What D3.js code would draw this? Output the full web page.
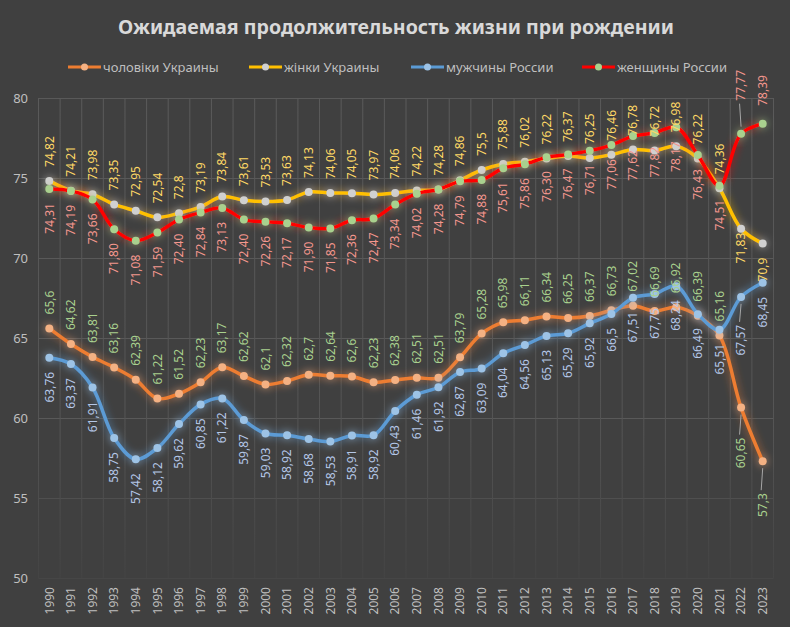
<!DOCTYPE html>
<html>
<head>
<meta charset="utf-8">
<script src="https://cdn.jsdelivr.net/npm/d3@7"></script>
<style>
    body { margin: 0; background: #404040; }
    #chart { width: 790px; height: 627px; }
</style>
</head>
<body>
<div id="chart"></div>
<script>
var years = [1990, 1991, 1992, 1993, 1994, 1995, 1996, 1997, 1998, 1999, 2000, 2001,
    2002, 2003, 2004, 2005, 2006, 2007, 2008, 2009, 2010, 2011, 2012, 2013, 2014,
    2015, 2016, 2017, 2018, 2019, 2020, 2021, 2022, 2023];

// чоловіки Украины
var uaMen = [65.6, 64.62, 63.81, 63.16, 62.39, 61.22, 61.52, 62.23, 63.17, 62.62, 62.1, 62.32,
    62.7, 62.64, 62.6, 62.23, 62.38, 62.51, 62.51, 63.79, 65.28, 65.98, 66.11, 66.34, 66.25,
    66.37, 66.73, 67.02, 66.69, 66.92, 66.39, 65.16, 60.65, 57.3];
// жінки Украины
var uaWomen = [74.82, 74.21, 73.98, 73.35, 72.95, 72.54, 72.8, 73.19, 73.84, 73.61, 73.53, 73.63,
    74.13, 74.06, 74.05, 73.97, 74.06, 74.22, 74.28, 74.86, 75.5, 75.88, 76.02, 76.22, 76.37,
    76.25, 76.46, 76.78, 76.72, 76.98, 76.22, 74.36, 71.83, 70.9];
// мужчины России
var ruMen = [63.76, 63.37, 61.91, 58.75, 57.42, 58.12, 59.62, 60.85, 61.22, 59.87, 59.03, 58.92,
    58.68, 58.53, 58.91, 58.92, 60.43, 61.46, 61.92, 62.87, 63.09, 64.04, 64.56, 65.13, 65.29,
    65.92, 66.5, 67.51, 67.75, 68.24, 66.49, 65.51, 67.57, 68.45];
// женщины России
var ruWomen = [74.31, 74.19, 73.66, 71.80, 71.08, 71.59, 72.40, 72.84, 73.13, 72.40, 72.26, 72.17,
    71.90, 71.85, 72.36, 72.47, 73.34, 74.02, 74.28, 74.79, 74.88, 75.61, 75.86, 76.30, 76.47,
    76.71, 77.06, 77.62, 77.82, 78.17, 76.43, 74.51, 77.77, 78.39];

var yTicks = [50, 55, 60, 65, 70, 75, 80];
var seriesNames = ["чоловіки  Украины", "жінки Украины", "мужчины России", "женщины России"];

var width = 790,
    height = 627;

var series = [
    {name: seriesNames[0], values: uaMen, line: "#ED7D31", marker: "#F4B183", label: "#A9D18E", side: "up", fixed: false},
    {name: seriesNames[1], values: uaWomen, line: "#FFC000", marker: "#D0D0D0", label: "#FFD966", side: "up", fixed: false},
    {name: seriesNames[2], values: ruMen, line: "#5B9BD5", marker: "#9DC3E6", label: "#B4C7E7", side: "down", fixed: false},
    {name: seriesNames[3], values: ruWomen, line: "#FF0000", marker: "#A9D18E", label: "#F4978E", side: "down", fixed: true}
];

// hand-placed labels at the end of the chart: [side, gap, leader line]
var labelOverrides = {
    0: {2022: ["down", 30, true], 2023: ["down", 32, true]},
    1: {2022: ["down", 4, false], 2023: ["down", 14, false]},
    2: {2022: ["down", 28, true]},
    3: {2022: ["up", 33, true], 2023: ["up", 18, false]}
};

var x = d3.scaleBand().domain(years).range([38.5, 773.5]);
var y = d3.scaleLinear().domain([50, 80]).range([578, 98]);
var cx = function (d) { return x(d) + x.bandwidth() / 2 };

var svg = d3.select("#chart")
    .append("svg")
    .attr("width", width)
    .attr("height", height)
    .style("font-family", "'Noto Sans', sans-serif");

svg.append("rect").attr("width", width).attr("height", height).attr("fill", "#404040");

var defs = svg.append("defs");
var glow = defs.append("filter")
    .attr("id", "glow")
    .attr("filterUnits", "userSpaceOnUse")
    .attr("x", 0).attr("y", 0).attr("width", width).attr("height", height);
glow.append("feGaussianBlur").attr("in", "SourceGraphic").attr("stdDeviation", 4).attr("result", "b");
glow.append("feComponentTransfer").attr("in", "b").attr("result", "b2")
    .append("feFuncA").attr("type", "linear").attr("slope", 0.75);
var merge = glow.append("feMerge");
merge.append("feMergeNode").attr("in", "b2");
merge.append("feMergeNode").attr("in", "SourceGraphic");

// grid fades out towards the bottom
var fade = defs.append("linearGradient")
    .attr("id", "fade")
    .attr("gradientUnits", "userSpaceOnUse")
    .attr("x1", 0).attr("x2", 0).attr("y1", 98).attr("y2", 578);
fade.append("stop").attr("offset", "0").attr("stop-color", "#5a5a5a");
fade.append("stop").attr("offset", "0.7").attr("stop-color", "#545454");
fade.append("stop").attr("offset", "1").attr("stop-color", "#444444");

// title
svg.append("text")
    .attr("x", 396)
    .attr("y", 34)
    .attr("text-anchor", "middle")
    .attr("fill", "#D9D9D9")
    .style("font-size", "19.6px")
    .style("font-weight", "bold")
    .text("Ожидаемая продолжительность жизни при рождении");

// legend
var legendX = [68, 249, 411, 582];
var legend = svg.append("g").selectAll("g")
    .data(series)
    .enter()
    .append("g")
    .attr("transform", function (d, i) { return "translate(" + legendX[i] + ",67)" });
legend.append("line")
    .attr("x1", 0).attr("x2", 33)
    .attr("stroke", function (d) { return d.line })
    .attr("stroke-width", 3);
legend.append("circle")
    .attr("cx", 16.5).attr("r", 3.5)
    .attr("fill", function (d) { return d.marker });
legend.append("text")
    .attr("x", 35)
    .attr("dy", "0.35em")
    .attr("fill", "#BFBFBF")
    .style("font-size", "13px")
    .text(function (d) { return d.name });

// grid
var grid = svg.append("g").attr("stroke-width", 1);
grid.selectAll(".hg")
    .data(yTicks)
    .enter()
    .append("line")
    .attr("x1", x.range()[0]).attr("x2", x.range()[1])
    .attr("y1", function (d) { return Math.round(y(d)) + 0.5 })
    .attr("y2", function (d) { return Math.round(y(d)) + 0.5 })
    .attr("stroke", function (d) { return d <= 50 ? "#464646" : d <= 55 ? "#4f4f4f" : "#595959" });
grid.selectAll(".vg")
    .data(years.concat(["end"]))
    .enter()
    .append("line")
    .attr("x1", function (d) { return d === "end" ? x.range()[1] : x(d) })
    .attr("x2", function (d) { return d === "end" ? x.range()[1] : x(d) })
    .attr("y1", y(80)).attr("y2", y(50))
    .attr("stroke", "url(#fade)");

// y axis
var yAxis = svg.append("g")
    .attr("transform", "translate(28,0)")
    .call(d3.axisLeft(y).tickValues(yTicks).tickSize(0).tickPadding(0));
yAxis.select(".domain").remove();
yAxis.selectAll("text").attr("fill", "#BFBFBF").style("font-size", "13px").style("font-family", "'Noto Sans', sans-serif");

// x axis, rotated years
var xAxis = svg.append("g")
    .attr("transform", "translate(0,587)")
    .call(d3.axisBottom(x).tickSize(0).tickPadding(0));
xAxis.select(".domain").remove();
xAxis.selectAll("text")
    .attr("fill", "#BFBFBF")
    .style("font-size", "12px")
    .style("font-family", "'Noto Sans', sans-serif")
    .attr("text-anchor", "end")
    .attr("transform", "rotate(-90)")
    .attr("x", 0).attr("y", 0)
    .attr("dy", "0.35em");

// lines + markers
var line = d3.line()
    .x(function (d, i) { return cx(years[i]) })
    .y(function (d) { return y(d) })
    .curve(d3.curveCatmullRom.alpha(0.5));

var groups = svg.append("g").selectAll("g")
    .data(series)
    .enter()
    .append("g")
    .attr("filter", "url(#glow)");

groups.append("path")
    .attr("d", function (d) { return line(d.values) })
    .attr("fill", "none")
    .attr("stroke", function (d) { return d.line })
    .attr("stroke-width", 3.5)
    .attr("stroke-linejoin", "round");

groups.each(function (s) {
    d3.select(this).selectAll("circle")
        .data(s.values)
        .enter()
        .append("circle")
        .attr("cx", function (d, i) { return cx(years[i]) })
        .attr("cy", function (d) { return y(d) })
        .attr("r", 4)
        .attr("fill", s.marker);
});

// data labels
var labels = svg.append("g");
series.forEach(function (s, si) {
    s.values.forEach(function (v, i) {
        var yr = years[i];
        var side = s.side, gap = 14, leader = false;
        var o = labelOverrides[si] && labelOverrides[si][yr];
        if (o) { side = o[0]; gap = o[1]; leader = o[2]; }
        var px = cx(yr), py = y(v);
        var ly = side === "up" ? py - gap : py + gap;
        var txt = s.fixed ? v.toFixed(2) : String(v);
        if (leader) {
            labels.append("line")
                .attr("x1", px).attr("x2", px - 1.5)
                .attr("y1", side === "up" ? py - 7 : py + 7)
                .attr("y2", side === "up" ? ly + 3 : ly - 3)
                .attr("stroke", "#A6A6A6")
                .attr("stroke-width", 1);
        }
        labels.append("text")
            .attr("transform", "translate(" + px + "," + ly + ") rotate(-90)")
            .attr("text-anchor", side === "up" ? "start" : "end")
            .attr("dy", "0.35em")
            .attr("fill", s.label)
            .style("font-size", "12px")
            .text(txt.replace(".", ","));
    });
});
</script>
</body>
</html>
